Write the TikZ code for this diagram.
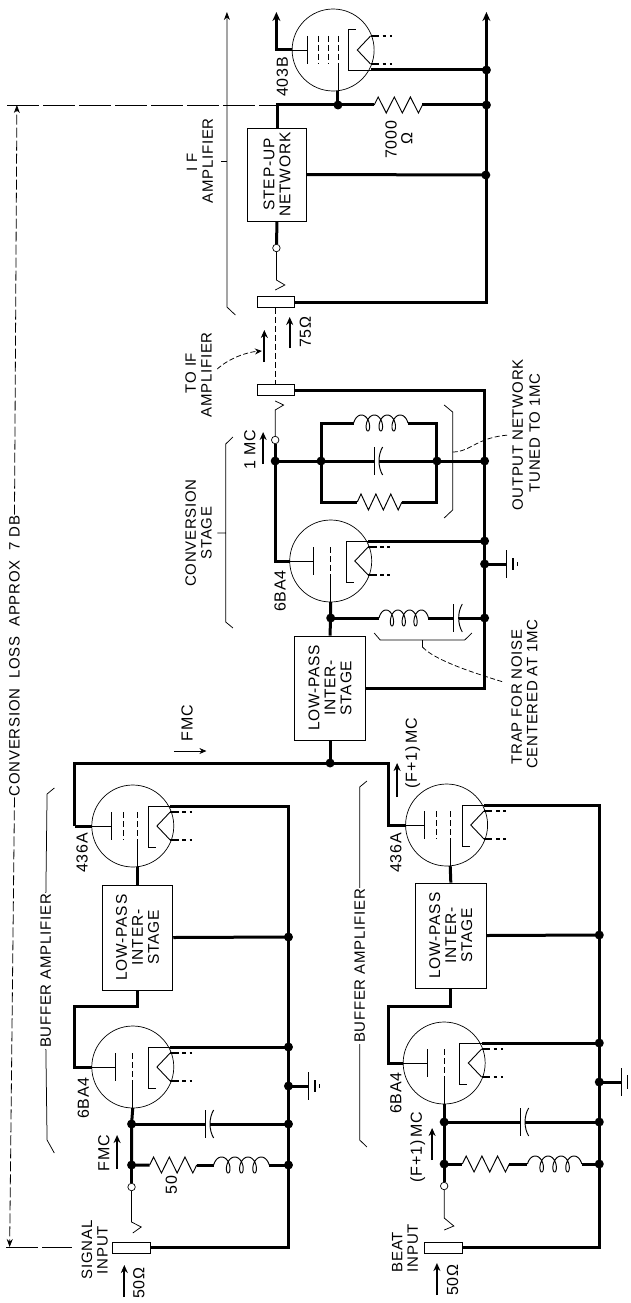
\documentclass[tikz,border=0pt]{standalone}
\usepackage{fontspec}
\setmainfont[LetterSpace=5]{Liberation Sans}
\usetikzlibrary{arrows.meta}
\tikzset{
  wire/.style={line width=3pt,line join=miter},
  thinw/.style={line width=0.75pt},
  arrowthick/.style={line width=2pt,-{Stealth[length=8pt,width=7pt]}},
  arrowthin/.style={line width=0.8pt,-{Stealth[length=7pt,width=6pt]}},
  dashlong/.style={line width=0.8pt,dash pattern=on 10pt off 3pt},
  jdot/.style={circle,fill=black,inner sep=0pt,minimum size=9pt},
  opendot/.style={circle,draw=black,fill=white,line width=0.7pt,inner sep=0pt,minimum size=7.5pt},
  jackbox/.style={rectangle,draw=black,fill=white,line width=0.9pt,minimum width=37.5pt,minimum height=11pt,inner sep=0pt},
  netbox/.style={rectangle,draw=black,fill=white,line width=0.8pt,rotate=90,align=center,inner sep=0pt,
     font=\fontsize{15.5}{16}\selectfont},
  tubeshape/.style={circle,draw=black,line width=0.7pt,minimum size=82pt,inner sep=0pt},
  lab/.style={rotate=90,align=center,inner sep=0pt,font=\fontsize{15}{15}\selectfont},
  labs/.style={rotate=90,align=center,inner sep=0pt,font=\fontsize{16}{16}\selectfont},
  blank/.style={rotate=90,align=center,inner sep=1pt,font=\fontsize{15}{15}\selectfont},
}
% #1 name, #2 cx, #3 cy, #4 flip, #5 plate bar offset, #6 screen grid offsets, #7 control grid offset
\newcommand{\vtube}[7]{%
  \begin{scope}[shift={(#2,#3)}]
    \node[tubeshape] (#1) at (0,0) {};
    \coordinate (#1-plate) at (-34,0);
    \coordinate (#1-grid) at (#7,41);
    \draw[thinw] (-34,0) -- (#5,0);
    \draw[line width=1pt] (#5,-14) -- (#5,14);
    \foreach \g in {#6} {\draw[line width=0.9pt,dash pattern=on 6pt off 3pt] (\g,-14) -- (\g,14);}
    \draw[line width=0.9pt,dash pattern=on 6pt off 3pt] (#7,-14) -- (#7,14);
    \draw[thinw] (#7,14) -- (#7,41);
    \begin{scope}[yscale=#4]
      \coordinate (#1-cath) at (31,-20);
      \draw[line width=0.8pt] (31,-20) -- (13,-20) -- (13,21) -- (19,21);
      \draw[line width=0.9pt] (31,-14) -- (20,0) -- (31,14);
      \draw[line width=2.2pt] (31,-14) -- (38,-14) (31,14) -- (38,14);
      \draw[line width=2.2pt] (41,-14) -- (44,-14) (47,-14) -- (49,-14)
                            (41,14) -- (44,14) (47,14) -- (49,14);
    \end{scope}
  \end{scope}}
\newcommand{\resH}[4]{%
  \coordinate (#1-a) at (#2,#4);
  \coordinate (#1-b) at (#3,#4);
  \pgfmathsetmacro{\www}{(#3-#2)/6}
  \draw[line width=0.95pt,line join=miter] (#2,#4) -- ({#2+0.5*\www},{#4-8}) -- ({#2+1.5*\www},{#4+8})
     -- ({#2+2.5*\www},{#4-8}) -- ({#2+3.5*\www},{#4+8}) -- ({#2+4.5*\www},{#4-8})
     -- ({#2+5.5*\www},{#4+8}) -- (#3,#4);}
\newcommand{\indH}[4]{%
  \coordinate (#1-a) at (#2,#4);
  \coordinate (#1-b) at (#3,#4);
  \pgfmathsetmacro{\lll}{#3-#2}
  \pgfmathsetmacro{\bbb}{\lll/12}
  \pgfmathsetmacro{\sss}{(\lll-2*\bbb)/3.5}
  \draw[line width=0.95pt] plot[domain=-90:1170,samples=120,smooth,variable=\t]
     ({#2+\sss*(\t+90)/360+\bbb*sin(\t)+\bbb},{#4-8*cos(\t)});}
\newcommand{\capH}[3]{%
  \coordinate (#1-a) at (#2,#3);
  \coordinate (#1-b) at ({#2+4},#3);
  \draw[line width=0.95pt] (#2,{#3-14}) -- (#2,{#3+14});
  \draw[line width=0.95pt] ({#2+7},{#3-14}) .. controls ({#2+3},{#3-6}) and ({#2+3},{#3+6}) .. ({#2+7},{#3+14});}
\newcommand{\gnd}[3]{%
  \coordinate (#1) at (#2,#3);
  \draw[line width=1pt] (#2,{#3-14}) -- (#2,{#3+14});
  \draw[line width=1.2pt] ({#2+5},{#3-6}) -- ({#2+5},{#3+6});
  \draw[line width=0.8pt] ({#2+9},{#3-2}) -- ({#2+9},{#3+2});}
\newcommand{\gndedge}[3]{%
  \coordinate (#1) at (#2,#3);
  \draw[line width=1pt] (#2,{#3-14}) -- (#2,{#3+14});
  \draw[line width=1.2pt] ({#2+5},{#3-7}) -- ({#2+5},{#3+7});}
\begin{document}
\begin{tikzpicture}[x=1.207pt,y=-1pt]
\useasboundingbox (0,0) rectangle (522,1303);
\fill[white] (0,0) rectangle (522,1303);

%% ---------- tubes
\vtube{vif}{276}{50}{-1}{-21}{-12,-4}{4}
\vtube{vconv}{274}{561}{1}{-14}{}{0}
\vtube{vba}{110}{826}{1}{-18}{-8}{4}
\vtube{vbb}{370}{825}{1}{-18}{-8}{3}
\vtube{vaa}{110}{1067}{1}{-14}{}{0}
\vtube{vab}{368}{1063}{1}{-14}{}{0}

%% ---------- boxes
\node[netbox,minimum width=93pt,minimum height=59.5pt] (stepup) at (229.5,174.5) {STEP-UP\\NETWORK};
\node[netbox,minimum width=104pt,minimum height=71.5pt] (lpc) at (273.5,688) {LOW-PASS\\INTER-\\STAGE};
\node[netbox,minimum width=105pt,minimum height=70.5pt] (lpa) at (114,937.5) {LOW-PASS\\INTER-\\STAGE};
\node[netbox,minimum width=105pt,minimum height=71pt] (lpb) at (373.5,935.5) {LOW-PASS\\INTER-\\STAGE};

%% ---------- jacks and open terminals
\node[jackbox] (jk1) at (228.5,302) {};
\node[jackbox] (jk2) at (228.5,390) {};
\node[jackbox] (jka) at (109,1247.5) {};
\node[jackbox] (jkb) at (367.5,1247.5) {};
\node[opendot] (o1) at (229,248) {};
\node[opendot] (o2) at (228,440) {};
\node[opendot] (oa) at (109,1187) {};
\node[opendot] (ob) at (368,1186) {};

%% ---------- junction dots
\node[jdot] (d71) at (403,70) {};
\node[jdot] (d105) at (403,105) {};
\node[jdot] (d175) at (402.5,175) {};
\node[jdot] (dg) at (280,105) {};
\node[jdot] (c1) at (228,461) {};
\node[jdot] (c2) at (266,461) {};
\node[jdot] (c3) at (362,461) {};
\node[jdot] (c4) at (401.5,461) {};
\node[jdot] (c5) at (401.5,541) {};
\node[jdot] (c6) at (401.5,564) {};
\node[jdot] (c7) at (274,618) {};
\node[jdot] (c8) at (401.5,618) {};
\node[jdot] (dj) at (273.5,763) {};
\node[jdot] (a1) at (239,937) {};
\node[jdot] (a2) at (239,1047) {};
\node[jdot] (a3) at (239,1086) {};
\node[jdot] (a4) at (109,1124) {};
\node[jdot] (a5) at (239,1124) {};
\node[jdot] (a6) at (109,1165) {};
\node[jdot] (a7) at (239,1165) {};
\node[jdot] (b1) at (496.5,935) {};
\node[jdot] (b2) at (496.5,1043) {};
\node[jdot] (b3) at (496.5,1082) {};
\node[jdot] (b4) at (368,1122) {};
\node[jdot] (b5) at (496.5,1122) {};
\node[jdot] (b6) at (368,1164) {};
\node[jdot] (b7) at (496.5,1164) {};

%% ---------- routing points
\coordinate (ifT) at (229,12);
\coordinate (busT) at (403,12);
\coordinate (j105) at (229,105);
\coordinate (k1) at (229,280);
\coordinate (k2) at (236,285);
\coordinate (k3) at (228,290);
\coordinate (k4) at (228,410);
\coordinate (k5) at (235,405);
\coordinate (k6) at (228,401);
\coordinate (ka1) at (109,1222);
\coordinate (ka2) at (117,1227);
\coordinate (ka3) at (110,1233);
\coordinate (kb1) at (368,1218);
\coordinate (kb2) at (376,1226);
\coordinate (kb3) at (368,1230);
\coordinate (n1) at (62,763);
\coordinate (n2) at (62,826);
\coordinate (n3) at (322,763);
\coordinate (n4) at (322,825);
\coordinate (n5) at (114,1006);
\coordinate (n6) at (62,1006);
\coordinate (n7) at (373.5,1006);
\coordinate (n8) at (322,1006);

%% ---------- R L C
\resH{r7k}{310}{350}{105}
\capH{cout}{310}{461}
\indH{lout}{293}{338}{423}
\resH{rout}{296}{333}{502}
\indH{ltrap}{314}{355}{618}
\capH{ctrap}{376}{618}
\capH{cina}{170}{1124}
\resH{rina}{124}{163}{1165}
\indH{lina}{177}{223}{1165}
\capH{cinb}{431}{1122}
\resH{rinb}{383}{422}{1164}
\indH{linb}{437}{482}{1164}
\gnd{gc}{420}{564}
\gnd{ga}{256}{1086}
\gndedge{gb}{515}{1082}

%% ---------- IF stage wires
\draw[wire,-{Stealth[length=9pt,width=8pt]}] (vif-plate) -| (ifT);
\draw[wire,-{Stealth[length=9pt,width=8pt]}] (jk1.east) -| (busT);
\draw[wire] (vif-cath) -- (d71.center);
\draw[wire] (vif-grid) -- (dg.center);
\draw[wire] (stepup.east) |- (dg.center) -- (r7k-a);
\draw[wire] (r7k-b) -- (d105.center);
\draw[wire] (stepup.south) -- (d175.center);
\draw[wire] (stepup.west) -- (o1);
\draw[thinw] (o1) -- (k1) -- (k2) -- (k3);
\draw[line width=0.7pt,dash pattern=on 6pt off 3pt] (jk1.south) -- (jk2.north);

%% ---------- conversion stage wires
\draw[thinw] (o2) -- (k4) -- (k5) -- (k6);
\draw[wire] (o2) -- (c1.center);
\draw[wire] (c1.center) -- (cout-a);
\draw[wire] (cout-b) -- (c4.center);
\draw[wire] (c2.center) |- (lout-a);
\draw[wire] (lout-b) -| (c3.center);
\draw[wire] (c2.center) |- (rout-a);
\draw[wire] (rout-b) -| (c3.center);
\draw[wire] (c1.center) |- (vconv-plate);
\draw[wire] (vconv-cath) -- (c5.center);
\draw[wire] (c6.center) -- (gc);
\draw[wire] (vconv-grid) -- (lpc.east);
\draw[wire] (c7.center) -- (ltrap-a);
\draw[wire] (ltrap-b) -- (ctrap-a);
\draw[wire] (ctrap-b) -- (c8.center);
\draw[wire] (jk2.east) -| (c8.center) |- (lpc.south);
\draw[wire] (lpc.west) -- (dj.center);
\draw[wire] (n2) -- (n1) -- (n3) -- (n4) -- (vbb-plate);
\draw[wire] (n2) -- (vba-plate);

%% ---------- buffer A wires
\draw[wire] (vba-cath) -| (a7.center);
\draw[wire] (a7.center) |- (jka.east);
\draw[wire] (lpa.south) -- (a1.center);
\draw[wire] (vba-grid) -- (lpa.east);
\draw[wire] (lpa.west) -- (n5) -- (n6) |- (vaa-plate);
\draw[wire] (vaa-cath) -- (a2.center);
\draw[wire] (a3.center) -- (ga);
\draw[wire] (vaa-grid) -- (a4.center) -- (a6.center) -- (rina-a);
\draw[wire] (a6.center) -- (oa);
\draw[wire] (a4.center) -- (cina-a);
\draw[wire] (cina-b) -- (a5.center);
\draw[wire] (rina-b) -- (lina-a);
\draw[wire] (lina-b) -- (a7.center);
\draw[thinw] (oa) -- (ka1) -- (ka2) -- (ka3);

%% ---------- buffer B wires
\draw[wire] (vbb-cath) -| (b7.center);
\draw[wire] (b7.center) |- (jkb.east);
\draw[wire] (lpb.south) -- (b1.center);
\draw[wire] (vbb-grid) -- (lpb.east);
\draw[wire] (lpb.west) -- (n7) -- (n8) |- (vab-plate);
\draw[wire] (vab-cath) -- (b2.center);
\draw[wire] (b3.center) -- (gb);
\draw[wire] (vab-grid) -- (b4.center) -- (b6.center) -- (rinb-a);
\draw[wire] (b6.center) -- (ob);
\draw[wire] (b4.center) -- (cinb-a);
\draw[wire] (cinb-b) -- (b5.center);
\draw[wire] (rinb-b) -- (linb-a);
\draw[wire] (linb-b) -- (b7.center);
\draw[thinw] (ob) -- (kb1) -- (kb2) -- (kb3);

%% ---------- labels
\node[labs] (t403) at (234,77) {403B};
\node[labs] (t7000) at (324,140) {7000};
\node[labs] (tohm) at (337,139) {Ω};
\node[lab] (tif1) at (159,162) {I F};
\node[lab] (tif2) at (172,161) {AMPLIFIER};
\node[labs] (t75) at (253,332) {75Ω};
\node[lab] (tto1) at (158,373) {TO IF};
\node[lab] (tto2) at (171,375) {AMPLIFIER};
\node[labs] (t1mc) at (207,450) {1 MC};
\node[lab] (tcv1) at (158,533) {CONVERSION};
\node[lab] (tcv2) at (171,533) {STAGE};
\node[lab] (tout1) at (429,435) {OUTPUT\ NETWORK};
\node[lab] (tout2) at (443,433) {TUNED TO 1MC};
\node[lab] (ttr1) at (428,697) {TRAP FOR NOISE};
\node[lab] (ttr2) at (441,694) {CENTERED\ AT 1MC};
\node[labs] (t6c) at (232,591) {6BA4};
\node[labs] (tf1) at (155,723) {FMC};
\node[labs] (tf2) at (342,753) {(F+1)\,MC};
\node[labs] (t436a) at (68,853) {436A};
\node[labs] (t436b) at (328,853) {436A};
\node[labs] (t6a) at (69,1098) {6BA4};
\node[labs] (t6b) at (328,1093) {6BA4};
\node[labs] (tfa) at (86,1153) {FMC};
\node[labs] (tfb) at (346,1147) {(F+1)\,MC};
\node[labs] (t50) at (142,1185) {50};
\node[lab] (tsi1) at (72,1250) {SIGNAL};
\node[lab] (tsi2) at (85,1250) {INPUT};
\node[labs] (t50a) at (115,1283) {50Ω};
\node[lab] (tbe1) at (329,1252) {BEAT};
\node[lab] (tbe2) at (342,1248) {INPUT};
\node[labs] (t50b) at (375,1280) {50Ω};
\node[blank] (tloss) at (12,656) {CONVERSION\ \ LOSS\ \ APPROX\ \ 7 DB};
\node[blank] (tbufa) at (38,971) {BUFFER\ AMPLIFIER};
\node[blank] (tbufb) at (298,966) {BUFFER\ AMPLIFIER};

%% ---------- current arrows
\coordinate (p1a) at (240,348); \coordinate (p1b) at (240,317);
\coordinate (p2a) at (219,362); \coordinate (p2b) at (219,330);
\coordinate (p3a) at (218,464); \coordinate (p3b) at (218,432);
\coordinate (p4a) at (144,751); \coordinate (p4b) at (171,751);
\coordinate (p5a) at (329,797); \coordinate (p5b) at (329,763);
\coordinate (p6a) at (97,1169); \coordinate (p6b) at (97,1135);
\coordinate (p7a) at (358,1160); \coordinate (p7b) at (358,1128);
\coordinate (p8a) at (103,1297); \coordinate (p8b) at (103,1265);
\coordinate (p9a) at (362,1295); \coordinate (p9b) at (362,1263);
\draw[arrowthick] (p1a) -- (p1b);
\draw[arrowthick] (p2a) -- (p2b);
\draw[arrowthick] (p3a) -- (p3b);
\draw[arrowthin] (p4a) -- (p4b);
\draw[arrowthick] (p5a) -- (p5b);
\draw[arrowthick] (p6a) -- (p6b);
\draw[arrowthick] (p7a) -- (p7b);
\draw[arrowthick] (p8a) -- (p8b);
\draw[arrowthick] (p9a) -- (p9b);

%% ---------- brackets
\coordinate (bi1) at (188,12);
\coordinate (bi2) at (188,307);
\coordinate (bi3) at (195,315);
\coordinate (bi4) at (188,161);
\coordinate (bi5) at (183,161);
\draw[thinw,-{Stealth[length=8pt,width=6pt]}] (bi3) -- (bi2) -- (bi1);
\draw[thinw] (bi4) -- (bi5);
\coordinate (bc1) at (193,437);
\coordinate (bc2) at (187,444);
\coordinate (bc3) at (187,622);
\coordinate (bc4) at (193,628);
\coordinate (bc5) at (187,533);
\coordinate (bc6) at (180,533);
\draw[thinw] (bc1) -- (bc2) -- (bc3) -- (bc4) (bc5) -- (bc6);
\coordinate (bo1) at (368,405);
\coordinate (bo2) at (375,412);
\coordinate (bo3) at (375,510);
\coordinate (bo4) at (368,518);
\coordinate (bo5) at (375,452);
\coordinate (bo6) at (422,435);
\draw[thinw] (bo1) -- (bo2) -- (bo3) -- (bo4);
\draw[thinw,dash pattern=on 5pt off 2.5pt] (bo5) .. controls (390,452) and (395,437) .. (bo6);
\coordinate (bt1) at (310,633);
\coordinate (bt2) at (315,640);
\coordinate (bt3) at (385,640);
\coordinate (bt4) at (391,633);
\coordinate (bt5) at (350,640);
\coordinate (bt6) at (350,647);
\coordinate (bt7) at (417,682);
\draw[thinw] (bt1) -- (bt2) -- (bt3) -- (bt4) (bt5) -- (bt6);
\draw[thinw,dash pattern=on 5pt off 2.5pt] (bt6) .. controls (360,660) and (390,672) .. (bt7);
\coordinate (ba1) at (45,788); \coordinate (ba2) at (39,794);
\coordinate (ba3) at (39,1140); \coordinate (ba4) at (45,1153);
\draw[thinw] (ba1) -- (ba2) -- (tbufa.east) (tbufa.west) -- (ba3) -- (ba4);
\coordinate (bb1) at (304,781); \coordinate (bb2) at (298,787);
\coordinate (bb3) at (298,1140); \coordinate (bb4) at (304,1147);
\draw[thinw] (bb1) -- (bb2) -- (tbufb.east) (tbufb.west) -- (bb3) -- (bb4);
\coordinate (tc1) at (180,369); \coordinate (tc2) at (217,351);
\draw[thinw,dash pattern=on 5pt off 2.5pt,-{Stealth[length=7pt,width=6pt]}] (tc1) .. controls (190,358) and (205,352) .. (tc2);

%% ---------- conversion loss dimension
\coordinate (l1) at (14,105);
\coordinate (l2) at (8,1247);
\coordinate (l3) at (6,105);
\coordinate (l4) at (5,1247);
\coordinate (l5) at (60,1247);
\draw[dashlong,-{Stealth[length=8pt,width=6pt]}] (tloss.east) -- (l1);
\draw[dashlong,-{Stealth[length=8pt,width=6pt]}] (tloss.west) -- (l2);
\draw[line width=0.8pt,dash pattern=on 32pt off 4pt] (l3) -- (j105);
\draw[line width=0.8pt,dash pattern=on 32pt off 4pt] (l4) -- (l5);
\end{tikzpicture}
\end{document}
